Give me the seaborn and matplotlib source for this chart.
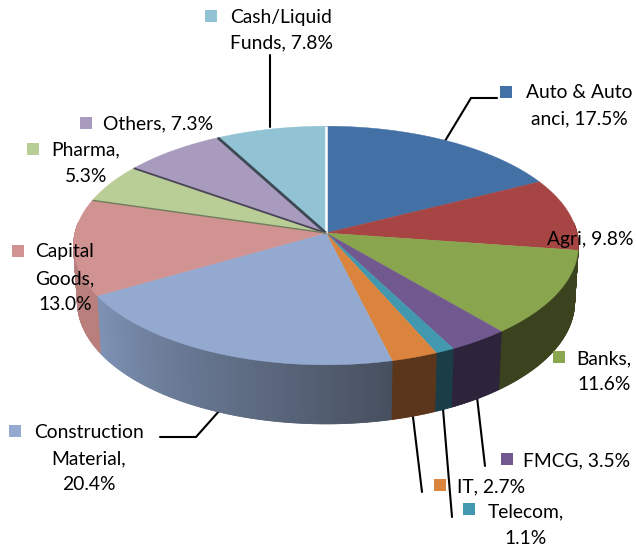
import numpy as np
import matplotlib
matplotlib.use("Agg")
import matplotlib.pyplot as plt
from matplotlib.colors import to_rgb
from matplotlib.patches import Polygon, Rectangle
import seaborn as sns

# data, clockwise from 12 o'clock
categories = ["Auto & Auto anci", "Agri", "Banks", "FMCG", "Telecom", "IT",
              "Construction Material", "Capital Goods", "Pharma", "Others", "Cash/Liquid Funds"]
shares = [17.5, 9.8, 11.6, 3.5, 1.1, 2.7, 20.4, 13.0, 5.3, 7.3, 7.8]

top_colors = ["#4371a6", "#a64543", "#89a54e", "#71588f", "#4198af", "#db843d",
              "#93a9cf", "#d19392", "#b9cd96", "#a99bbd", "#92c3d4"]
wall_left = ["#2a4668", "#6b2c2b", "#3a431e", "#2d243c", "#1b3d48", "#5c361a",
             "#7f93b6", "#b87f7d", "#6f7b5a", "#655d71", "#577580"]
wall_right = ["#2a4668", "#6b2c2b", "#3a431e", "#2d243c", "#1b3d48", "#5c361a",
              "#47505f", "#b87f7d", "#6f7b5a", "#655d71", "#577580"]

sns.set_theme(style="white")
plt.rcParams["font.family"] = ["Lato", "DejaVu Sans"]
palette = sns.color_palette(top_colors)

# pie geometry, in picture pixels
cx, cy = 326, 233
ax_a, ax_b, persp = 251, 118, 0.105
depth, shrink = 56, 0.985


def rim(theta):
    # point on the tilted disc for a clockwise angle from the top (degrees)
    t = np.radians(theta)
    px, py = np.sin(t), np.cos(t)
    d = 1 + persp * py
    return cx + ax_a * px / d, cy - ax_b * py / d


def rim_low(theta):
    x, y = rim(theta)
    return cx + (x - cx) * shrink, y + depth - 3 * np.cos(np.radians(theta))


fig = plt.figure(figsize=(6.36, 5.46), dpi=100)
ax = fig.add_axes([0, 0, 1, 1])
ax.set_xlim(0, 636)
ax.set_ylim(546, 0)
ax.axis("off")

edges = np.concatenate([[0], np.cumsum(shares)]) / sum(shares) * 360

# outer walls of the slices that face the viewer
for i in range(len(shares)):
    a0, a1 = edges[i], edges[i + 1]
    lo, hi = max(a0, 85), min(a1, 275)
    if hi <= lo:
        continue
    steps = np.linspace(lo, hi, max(int(hi - lo) * 2, 2))
    c0, c1 = np.array(to_rgb(wall_left[i])), np.array(to_rgb(wall_right[i]))
    for s0, s1 in zip(steps[:-1], steps[1:]):
        f = 1 - (s0 - lo) / (hi - lo)
        col = c0 * (1 - f) + c1 * f
        pts = [rim(s0), rim(s1 + 0.2), rim_low(s1 + 0.2), rim_low(s0)]
        ax.add_patch(Polygon(pts, closed=True, fc=col, ec=col, lw=0.6, zorder=2))

# top faces
for i in range(len(shares)):
    arc = np.linspace(edges[i], edges[i + 1], 90)
    xs, ys = rim(arc)
    pts = [(cx, cy)] + list(zip(xs, ys))
    ax.add_patch(Polygon(pts, closed=True, fc=palette[i], ec=palette[i], lw=0.3, zorder=3))

# seams between the slices
seams = [(edges[0], "white", 1.8), (edges[10], "#3d4a55", 2.0),
         (edges[9], "#4a4458", 1.3), (edges[8], "#6f7b5a", 1.0)]
for ang, col, lw in seams:
    x, y = rim(ang)
    ax.plot([cx, x], [cy, y], color=col, lw=lw, zorder=4, solid_capstyle="butt")

# leader lines
leaders = [[(270, 55), (270, 127)],
           [(497, 98), (471, 98), (445, 141)],
           [(160, 437), (196, 437), (220, 410)],
           [(477, 397), (485, 466)],
           [(413, 417), (422, 492)],
           [(443, 409), (452, 517)]]
for line in leaders:
    xs, ys = zip(*line)
    ax.plot(xs, ys, color="black", lw=1.5, zorder=1, solid_joinstyle="miter")

# legend keys of the data labels
keys = {"Auto & Auto anci": (500, 86), "Banks": (553, 351), "FMCG": (501, 453), "Telecom": (463, 503),
        "IT": (434, 479), "Construction Material": (9, 425), "Capital Goods": (12, 245), "Pharma": (27, 143),
        "Others": (80, 117), "Cash/Liquid Funds": (205, 10)}
for name, (kx, ky) in keys.items():
    col = palette[categories.index(name)]
    ax.add_patch(Rectangle((kx, ky), 12, 12, fc=col, ec="none", zorder=5))

label_lines = [("Cash/Liquid", 281, 17), ("Funds, 7.8%", 281, 43),
               ("Auto & Auto", 579, 93), ("anci, 17.5%", 579, 119),
               ("Agri, 9.8%", 590, 239),
               ("Banks,", 604, 359), ("11.6%", 604, 385),
               ("FMCG, 3.5%", 577, 461),
               ("IT, 2.7%", 491, 487),
               ("Telecom,", 526, 512), ("1.1%", 526, 538),
               ("Construction", 89, 433), ("Material,", 89, 459), ("20.4%", 89, 485),
               ("Capital", 65, 252), ("Goods,", 65, 279), ("13.0%", 65, 305),
               ("Pharma,", 86, 150), ("5.3%", 86, 176),
               ("Others, 7.3%", 158, 124)]
for txt, tx, ty in label_lines:
    ax.text(tx, ty, txt, ha="center", va="center", fontsize=13.9, color="black", zorder=6)

fig.savefig("out.png", dpi=100, facecolor="white")
